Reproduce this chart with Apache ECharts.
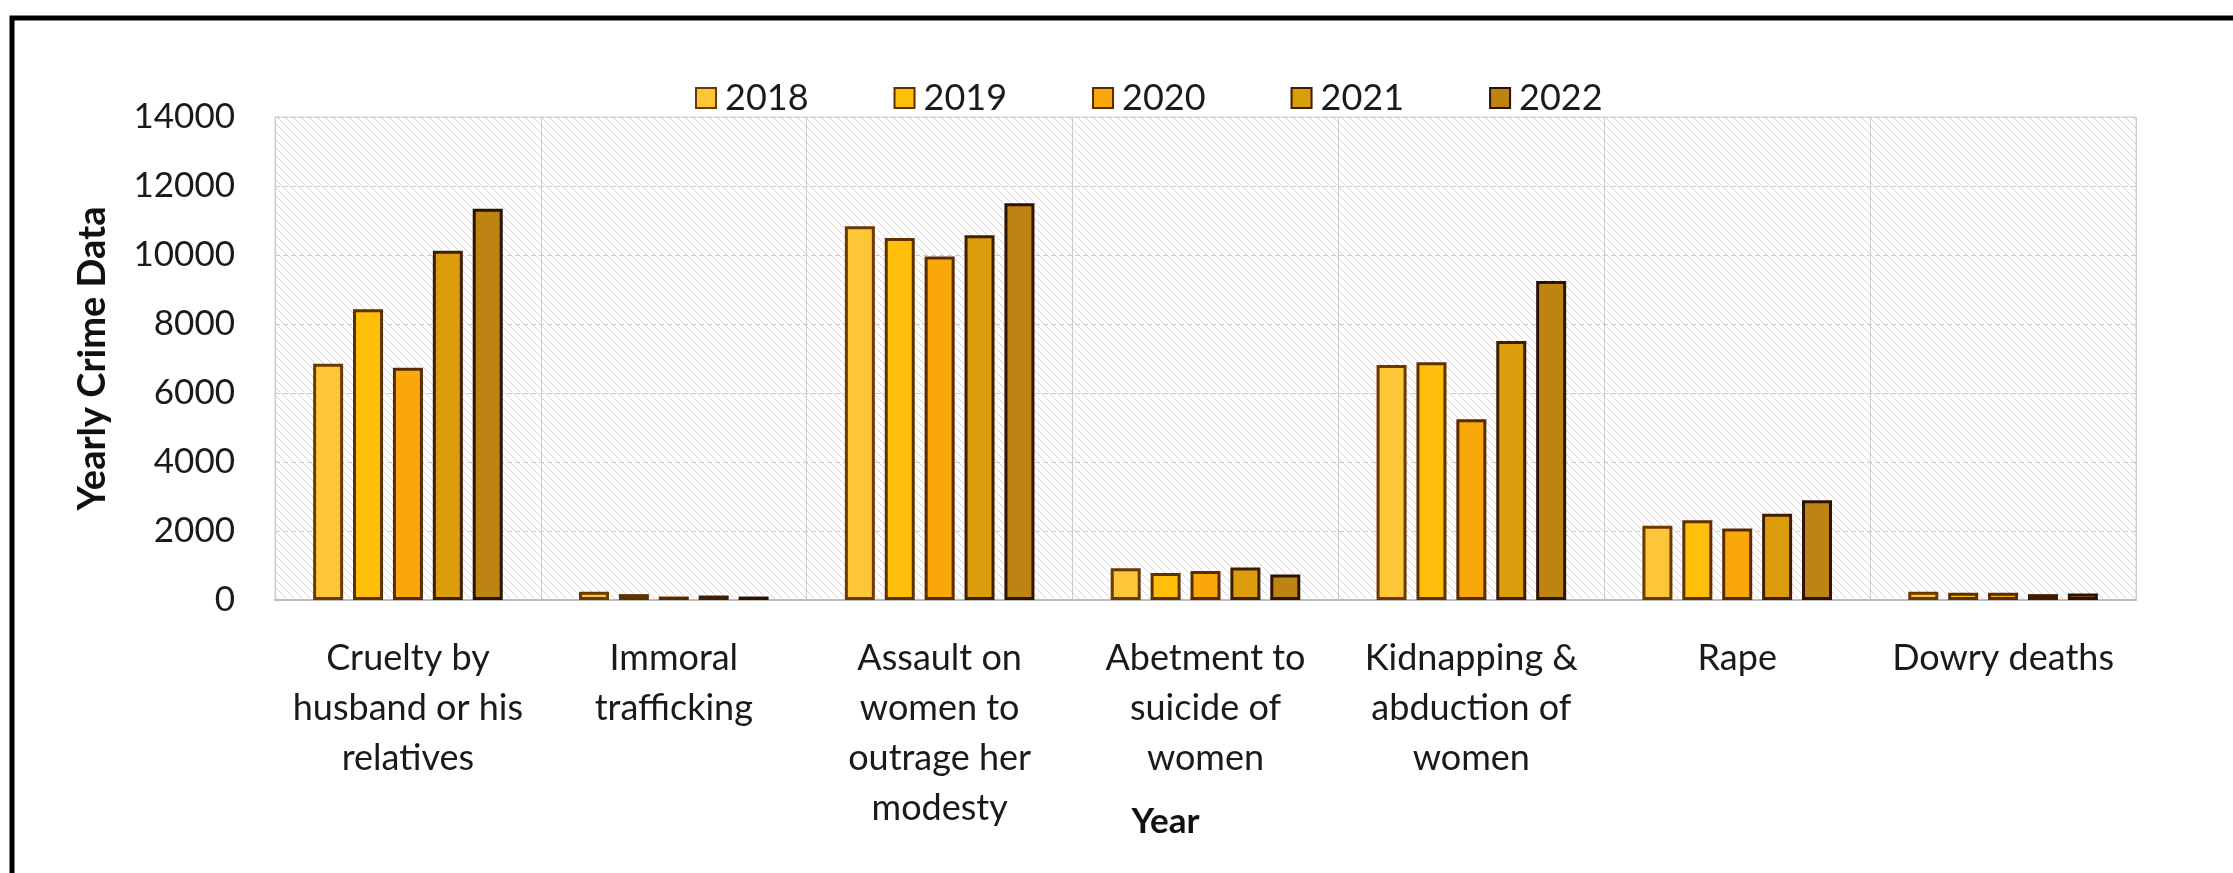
<!DOCTYPE html>
<html>
<head>
<meta charset="utf-8">
<script src="https://cdn.jsdelivr.net/npm/echarts@6/dist/echarts.min.js"></script>
<style>
  html, body { margin: 0; padding: 0; background: #ffffff; }
  #chart { width: 2233px; height: 873px; }
</style>
</head>
<body>
<div id="chart"></div>
<script>
// Crime categories shown along the x axis
const categories = [
  'Cruelty by\nhusband or his\nrelatives',
  'Immoral\ntrafficking',
  'Assault on\nwomen to\noutrage her\nmodesty',
  'Abetment to\nsuicide of\nwomen',
  'Kidnapping &\nabduction of\nwomen',
  'Rape',
  'Dowry deaths'
];

// Yearly crime counts, one array per year (same order as categories)
const years = ['2018', '2019', '2020', '2021', '2022'];
const data2018 = [6850, 240, 10830, 920, 6810, 2150, 240];
const data2019 = [8430, 170, 10490, 780, 6890, 2310, 210];
const data2020 = [6730, 100, 9960, 840, 5240, 2070, 210];
const data2021 = [10120, 130, 10570, 940, 7510, 2500, 170];
const data2022 = [11340, 100, 11500, 740, 9250, 2890, 190];

// Value axis ticks
const yMin = 0;
const yMax = 14000;
const yStep = 2000;

const seriesData = [data2018, data2019, data2020, data2021, data2022];
const fillColors = ['#fcc638', '#ffbe0a', '#f9a70a', '#dc9d0c', '#bd8414'];
const edgeColors = ['#6b3a00', '#5e3100', '#5a2a00', '#3f1d00', '#2e1200'];

// Light diagonal hatching for the plot background
function hatchPattern() {
  const c = document.createElement('canvas');
  c.width = 8; c.height = 8;
  const g = c.getContext('2d');
  g.fillStyle = '#ffffff';
  g.fillRect(0, 0, 8, 8);
  g.strokeStyle = '#d6d2d2';
  g.lineWidth = 1;
  g.beginPath();
  g.moveTo(-1, -1); g.lineTo(9, 9);
  g.moveTo(-1, 7); g.lineTo(1, 9);
  g.moveTo(7, -1); g.lineTo(9, 1);
  g.stroke();
  return c;
}

const FONT = 'Lato, "Noto Sans", sans-serif';

const chart = echarts.init(document.getElementById('chart'), null, { renderer: 'canvas' });

chart.setOption({
  backgroundColor: '#ffffff',
  animation: false,
  textStyle: { fontFamily: FONT },
  legend: {
    data: years,
    left: 690,
    top: 75,
    itemWidth: 20,
    itemHeight: 20,
    itemGap: 85,
    icon: 'rect',
    textStyle: { fontFamily: FONT, fontSize: 36, color: '#1a1a1a', padding: [0, 0, 0, 4] }
  },
  grid: {
    left: 275,
    right: 97,
    top: 117,
    bottom: 273,
    outerBoundsMode: 'none',
    containLabel: false,
    show: true,
    backgroundColor: { image: hatchPattern(), repeat: 'repeat' },
    borderColor: '#cfcfcf',
    borderWidth: 1
  },
  xAxis: {
    type: 'category',
    data: categories,
    name: 'Year',
    nameLocation: 'middle',
    nameGap: 204,
    nameMoveOverlap: false,
    nameTextStyle: {
      fontFamily: FONT, fontSize: 35, fontWeight: 'bold', color: '#111111',
      padding: [0, 80, 0, 0]
    },
    axisLine: { show: true, lineStyle: { color: '#bdbdbd', width: 2 } },
    axisTick: { show: false },
    axisLabel: {
      interval: 0,
      margin: 33,
      fontFamily: FONT,
      fontSize: 36,
      lineHeight: 50,
      color: '#1a1a1a',
      align: 'center'
    },
    splitLine: { show: true, interval: 0, lineStyle: { color: '#cccccc', width: 1 } }
  },
  yAxis: {
    type: 'value',
    min: yMin,
    max: yMax,
    interval: yStep,
    name: 'Yearly Crime Data',
    nameLocation: 'middle',
    nameGap: 163,
    nameMoveOverlap: false,
    nameRotate: 90,
    nameTextStyle: { fontFamily: FONT, fontSize: 38, fontWeight: 'bold', color: '#111111' },
    axisLine: { show: false },
    axisTick: { show: false },
    axisLabel: {
      margin: 40, fontFamily: FONT, fontSize: 35, color: '#1a1a1a',
      formatter: v => String(v)
    },
    splitLine: { show: true, lineStyle: { color: '#cccccc', width: 1, type: [5, 3] } }
  },
  series: years.map((y, i) => ({
    name: y,
    type: 'bar',
    data: seriesData[i],
    barWidth: 30,
    barGap: '33%',
    itemStyle: { color: fillColors[i], borderColor: edgeColors[i], borderWidth: 3 }
  })),
  graphic: [
    {
      type: 'polyline',
      silent: true,
      shape: { points: [[12, 873], [12, 18], [2233, 18]] },
      style: { stroke: '#000000', lineWidth: 5, fill: null }
    }
  ]
});
</script>
</body>
</html>
